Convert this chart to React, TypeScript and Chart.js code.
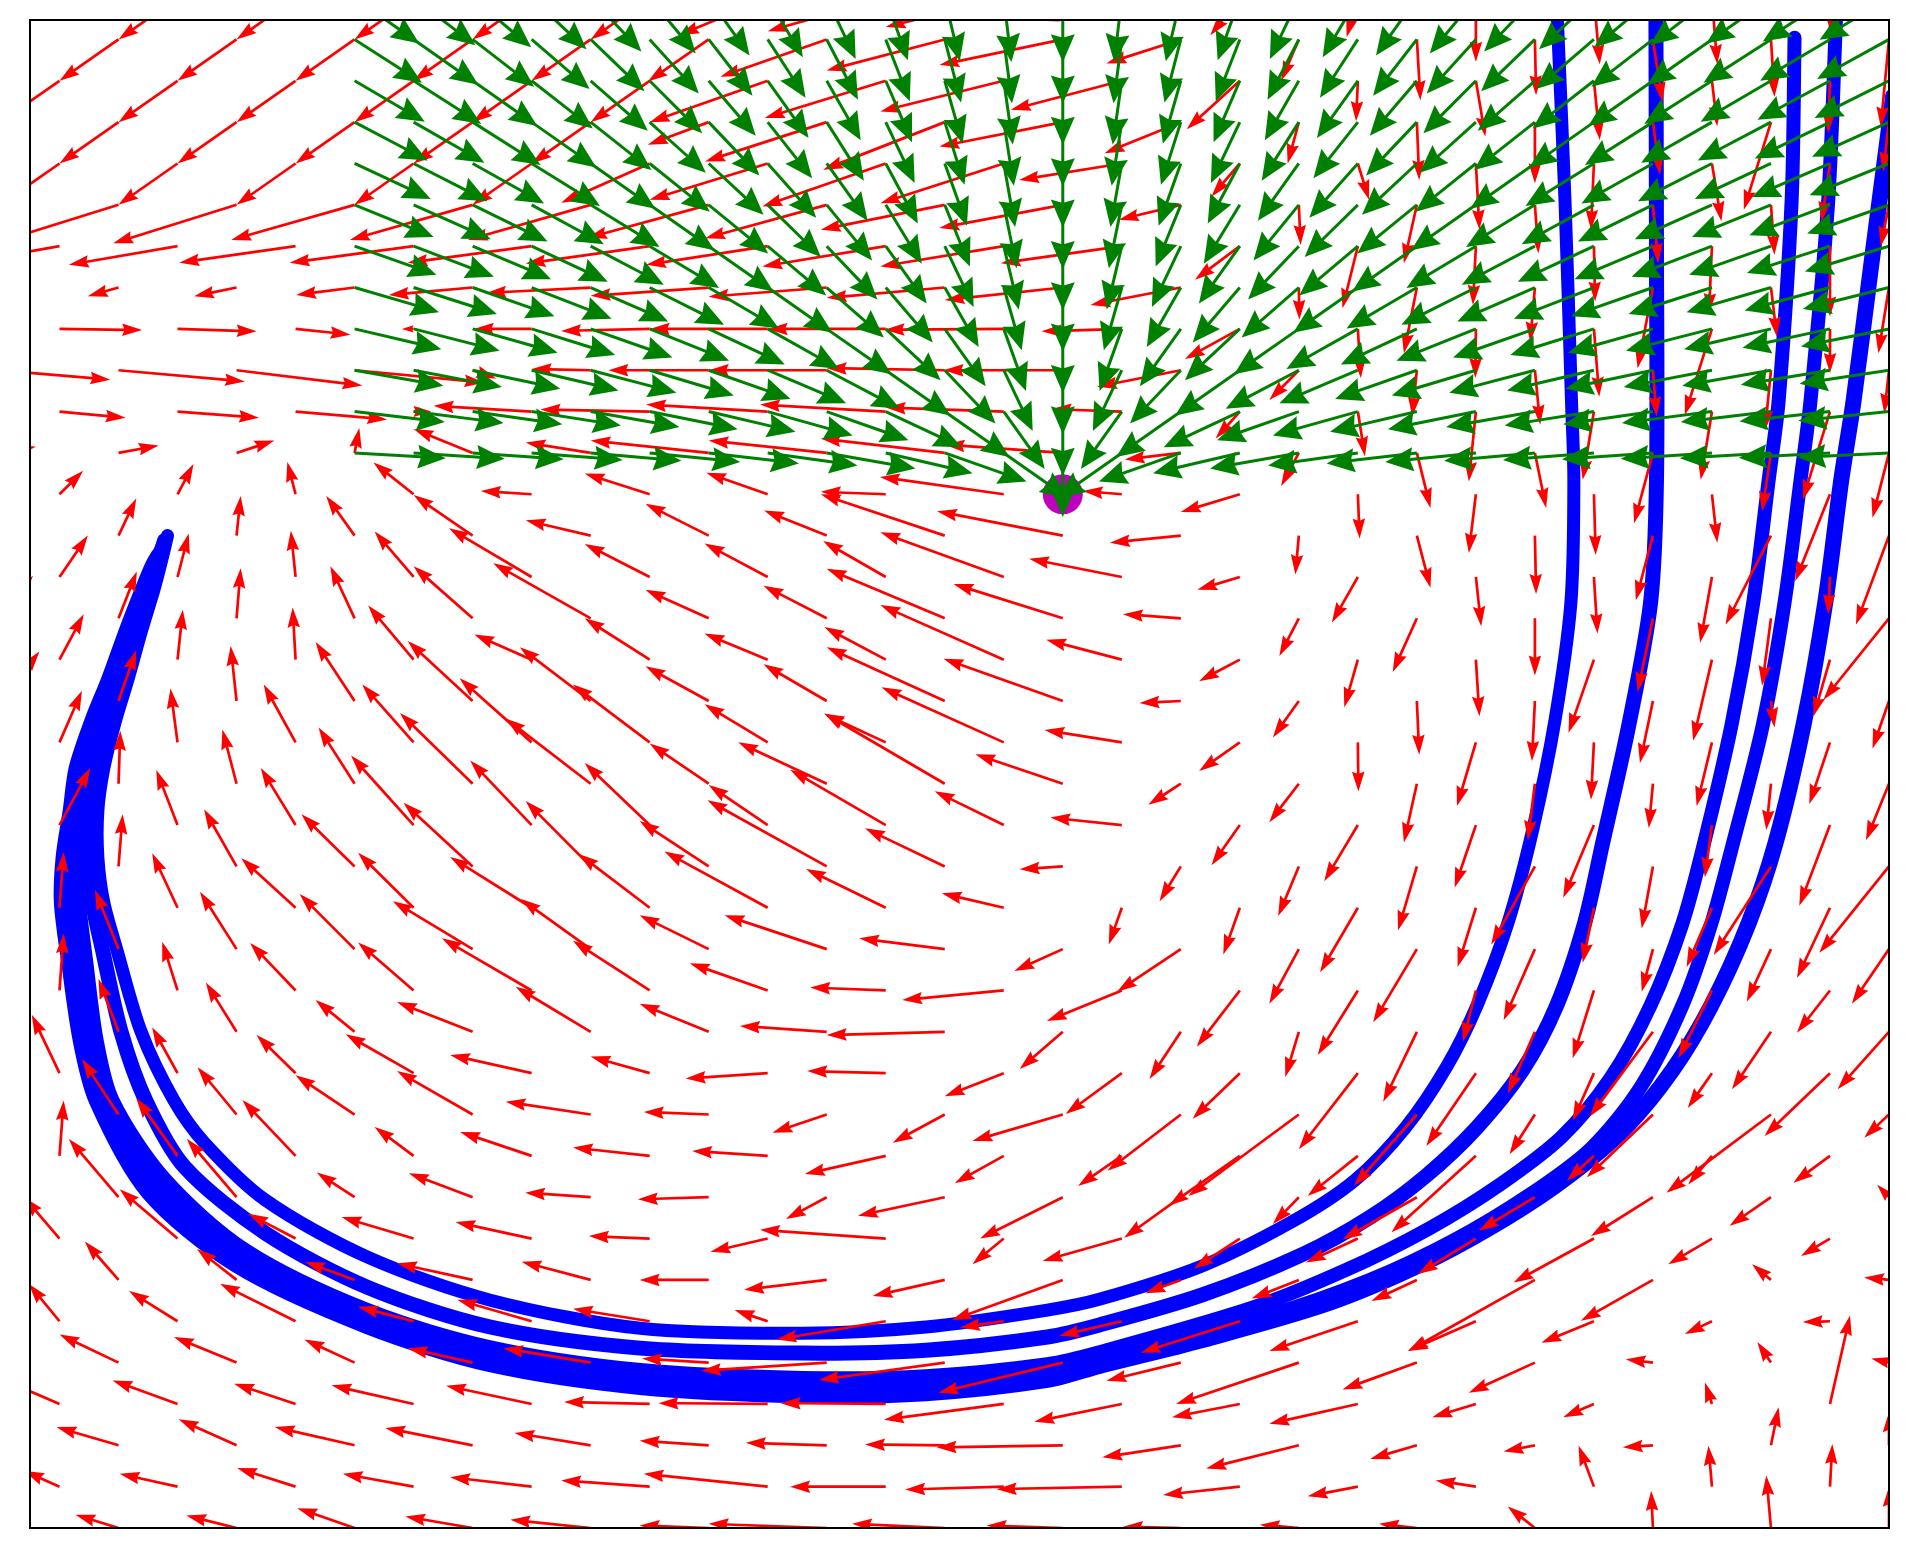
import React, { useEffect, useRef } from "react";
import { Chart, registerables } from "chart.js";

Chart.register(...registerables);

// Lattice coordinates: columns 0..32, rows 0..37 (row 0 = bottom edge)
const X_MIN = 0.5;
const X_MAX = 32;
const Y_MIN = 0;
const Y_MAX = 36.47;

// Goal (magenta marker); green arrows are unit directions toward it
const GOAL: [number, number] = [18, 25];
const GREEN_COLS: [number, number] = [6, 32];
const GREEN_ROWS: [number, number] = [26, 37];
const GREEN_LENGTH = 1.55;

// Red field: one row per lattice row k (0..37); tails on the checkerboard (i + k even).
// Each entry = [u, v] in lattice units.
const RED_VECTORS: number[][][] = [
  [[-0.6,0.3],[-0.73,0.32],[-0.85,0.3],[-0.97,0.48],[-1.14,0.28],[-1.36,0.2],[-1.17,0.06],[-2.0,0.1],[-1.57,0.1],[-1.29,0.06],[-0.98,0.03],[-0.66,0.08],[-0.64,0.1],[-0.46,0.52],[-0.03,0.9],[-0.08,1.27],[0,1.0]],
  [[-0.6,0.38],[-0.98,0.31],[-0.99,0.45],[-1.2,0.31],[-1.38,0.23],[-1.5,0.15],[-2.1,0.31],[-1.62,0],[-1.67,-0.07],[-2.12,-0.06],[-1.3,-0.2],[-0.85,-0.23],[-0.68,0.15],[-0.26,0.99],[-0.06,0.99],[0.04,1.03]],
  [[-0.9,0.5],[-1.05,0.44],[-0.98,0.63],[-1.35,0.44],[-1.48,0.42],[-1.29,0.3],[-1.17,0.11],[-1.37,0.06],[-1.35,0.02],[-2.14,-0.05],[-1.33,-0.29],[-1.57,-0.56],[-0.79,-0.33],[-0.53,-0.15],[-0.51,-0.05],[0.13,0.92],[0,0.8]],
  [[-0.9,0.55],[-1.1,0.57],[-1.04,0.49],[-1.39,0.45],[-1.45,0.44],[-1.45,0.05],[-1.85,0.02],[-1.78,0.02],[-2.03,-0.38],[-1.48,-0.43],[-1.15,-0.32],[-1.5,-0.48],[-0.74,-0.32],[-0.52,-0.32],[-0.12,0.52],[0.34,2.14]],
  [[-0.9,0.7],[-1.0,0.68],[-1.06,0.62],[-0.85,0.56],[-1.1,0.35],[-1.48,0.35],[-1.13,0.1],[-2.13,-0.2],[-2.13,-0.42],[-2.11,-0.73],[-1.26,-0.44],[-2.08,-1.0],[-1.26,-0.65],[-1.12,-0.73],[-0.46,0.08],[-0.23,0.5],[-0.3,0.1]],
  [[-0.52,0.9],[-0.82,0.73],[-1.28,0.91],[-0.94,0.35],[-1.26,0.52],[-1.3,0.3],[-0.56,0.27],[-1.85,-0.44],[-0.74,-0.15],[-1.06,-0.35],[-1.68,-0.76],[-1.5,-0.72],[-1.15,-0.72],[-0.89,-0.52],[-0.46,-0.31],[-0.46,-0.02]],
  [[-0.6,0.9],[-0.57,0.93],[-0.67,0.75],[-0.84,0.44],[-1.28,0.4],[-1.17,0.44],[-1.17,0],[-1.4,-0.24],[-1.22,-0.39],[-1.88,-0.97],[-0.6,-0.32],[-0.8,-0.45],[-0.77,-0.51],[-2.15,-1.72],[-1.22,-0.99],[-0.32,0.38],[-0.42,0.06]],
  [[-0.6,1.0],[-0.98,1.19],[-0.8,0.6],[-1.22,0.52],[-1.29,0.4],[-1.03,0.06],[-0.97,-0.32],[-2.13,0.21],[-0.53,-0.62],[-1.34,-0.54],[-0.78,-0.73],[-0.88,-0.58],[-0.98,-0.86],[-1.36,-1.06],[-0.74,-0.62],[-0.49,-0.42]],
  [[-0.4,1.3],[-0.84,1.41],[-0.84,1.41],[-0.64,0.6],[-1.08,0.58],[-1.11,0.11],[-1.2,-0.05],[-0.69,-0.53],[-1.47,-0.45],[-1.4,-1.0],[-0.96,-0.98],[-0.44,-0.65],[-1.26,-1.02],[-0.95,-0.81],[-1.05,-0.94],[-0.7,-0.69],[-0.2,0.3]],
  [[0.07,1.34],[-0.7,1.4],[-0.9,1.35],[-0.66,0.7],[-1.21,0.58],[-1.3,0.2],[-1.28,0.12],[-1.37,-0.44],[-0.83,-0.66],[-0.74,-0.73],[-1.2,-1.2],[-0.85,-0.97],[-1.43,-1.85],[-0.46,-0.6],[-0.4,-0.69],[-0.62,-0.65]],
  [[-0.3,1.3],[-0.62,1.34],[-0.66,1.14],[-1.0,0.95],[-1.28,1.05],[-1.44,0.31],[-1.1,0.06],[-0.92,-0.44],[-0.88,-0.68],[-1.53,-0.64],[-1.24,-1.36],[-1.87,-1.97],[-1.07,-1.73],[-0.43,-0.96],[-1.12,-1.52],[-1.77,-1.89],[-0.42,-0.56]],
  [[-0.47,1.41],[-0.43,1.11],[-0.66,0.92],[-1.15,0.94],[-1.38,0.44],[-1.0,0.4],[-1.39,-0.13],[-1.33,0.05],[-1.0,-0.56],[-0.95,-0.99],[-0.8,-1.1],[-1.0,-1.84],[-0.84,-1.76],[-0.36,-1.15],[-0.41,-0.84],[-1.11,-1.52]],
  [[-0.3,1.3],[-0.34,1.28],[-0.52,1.19],[-0.66,0.77],[-1.28,0.72],[-1.27,1.09],[-1.17,0.68],[-1.47,0.14],[-2.0,-0.08],[-0.73,-0.9],[-0.53,-1.14],[-0.23,-1.09],[-0.57,-1.69],[-0.46,-1.49],[-1.07,-2.05],[-0.66,-1.39],[-0.87,-1.39]],
  [[0.07,1.38],[-0.26,1.18],[-0.77,1.15],[-0.94,1.16],[-1.52,1.26],[-1.3,1.2],[-1.32,0.66],[-1.28,0.07],[-1.72,-0.23],[-1.27,-0.74],[-0.73,-1.36],[-0.68,-1.56],[-0.22,-1.24],[-0.36,-1.64],[-0.57,-1.64],[-0.56,-1.02]],
  [[-0.2,1.4],[-0.4,1.43],[-0.62,1.39],[-0.93,1.33],[-1.35,1.16],[-1.18,1.21],[-1.17,0.82],[-1.73,0.82],[-1.45,0.26],[-0.82,-0.53],[-1.08,-1.03],[-0.5,-1.32],[-0.74,-1.77],[-0.53,-1.72],[-0.19,-1.03],[-0.41,-1.27],[-0.63,-1.32]],
  [[0.07,1.35],[-0.43,1.32],[-0.92,1.2],[-0.94,1.33],[-1.38,1.23],[-1.2,1.3],[-1.75,1.36],[-1.35,0.94],[-1.05,0.35],[-0.22,-0.89],[-0.28,-1.13],[-0.64,-1.56],[-0.31,-1.43],[-0.19,-1.33],[-0.43,-1.43],[-0.56,-1.7]],
  [[0.0,1.3],[0.07,1.26],[-0.55,1.38],[-0.9,1.26],[-1.17,1.54],[-1.1,1.58],[-1.17,1.1],[-2.02,1.6],[-1.35,0.92],[-0.73,-0.07],[-0.36,-0.84],[-0.35,-1.2],[-0.32,-1.55],[-0.74,-1.89],[-0.19,-1.5],[-0.97,-2.14],[-1.18,-2.09]],
  [[0.52,1.38],[-0.36,1.33],[-0.59,1.38],[-1.06,1.68],[-1.04,1.56],[-1.1,1.5],[-1.0,0.97],[-1.62,1.34],[-1.17,0.82],[-1.21,0.18],[-0.48,-0.97],[-0.57,-1.36],[-0.36,-1.51],[-0.52,-1.76],[-0.12,-1.26],[-0.52,-1.95]],
  [[0.2,1.3],[0.03,1.28],[-0.24,1.31],[-0.61,1.36],[-1.23,1.71],[-1.44,1.58],[-1.0,0.97],[-1.5,1.0],[-2.04,1.7],[-1.48,0.71],[-0.55,-0.51],[-0.5,-0.93],[-0.22,-1.42],[-0.12,-1.37],[-0.07,-1.07],[-0.08,-1.12],[-0.39,-1.37]],
  [[0.38,1.25],[-0.12,1.3],[-0.54,1.4],[-0.87,1.4],[-1.22,1.55],[-1.3,1.4],[-1.07,0.92],[-1.04,0.69],[-2.07,1.33],[-1.31,0.3],[-0.69,-0.69],[0.01,-1.19],[-0.32,-1.54],[-0.05,-1.39],[-0.26,-1.54],[-0.35,-1.49]],
  [[0.66,1.2],[0.3,1.23],[-0.1,1.33],[-0.66,1.43],[-1.1,1.45],[-1.2,1.3],[-1.07,0.84],[-1.07,0.89],[-2.0,1.3],[-2.02,1.02],[-0.7,-0.05],[-0.44,-0.88],[0.04,-1.3],[-0.05,-1.45],[-0.22,-1.5],[0.06,-0.64],[-0.28,-1.15]],
  [[0.41,1.1],[0.09,1.21],[-0.05,1.26],[-0.77,1.31],[-0.97,0.61],[-1.1,1.0],[-1.07,0.63],[-1.04,0.79],[-2.09,1.32],[-1.28,0.48],[-0.69,-0.52],[-0.23,-1.15],[0.06,-1.37],[-0.43,-1.77],[-0.32,-1.96],[-0.28,-1.37]],
  [[0.55,1.03],[0.31,1.13],[0.07,1.21],[-0.41,1.26],[-1.0,1.26],[-1.65,1.33],[-1.07,0.69],[-1.07,0.79],[-2.0,1.2],[-1.85,0.83],[-0.98,0.1],[-0.33,-0.91],[-0.41,-1.3],[0,-1.38],[-0.26,-1.78],[-0.15,-1.63],[-1.11,-1.97]],
  [[0.48,1.0],[0.19,1.05],[-0.08,1.12],[-0.66,1.1],[-1.4,1.18],[-1.1,0.8],[-1.07,0.81],[-1.06,0.87],[-2.09,1.08],[-1.57,0.44],[-0.72,-0.31],[-0.44,-1.1],[0.09,-1.19],[0.06,-1.37],[-0.2,-1.59],[-0.03,-0.9]],
  [[0.5,0.9],[0.3,0.9],[0.07,0.96],[-0.48,0.96],[-1.0,0.98],[-1.1,0.37],[-1.07,0.77],[-1.06,0.61],[-2.1,1.0],[-2.13,0.59],[-1.2,-0.17],[-0.06,-0.94],[0.23,-1.26],[0.02,-1.41],[-0.29,-1.56],[-0.77,-2.15],[-0.56,-2.15]],
  [[0.4,0.57],[0.27,0.73],[-0.14,0.78],[-0.68,0.77],[-0.86,0.08],[-1.1,0.5],[-1.04,0.52],[-1.1,0.06],[-2.1,0.42],[-0.66,0.08],[-1.0,-0.43],[0.03,-1.07],[-0.12,-1.42],[0.03,-1.47],[0.09,-1.17],[-0.59,-2.1]],
  [[0.6,0.15],[0.68,0.18],[0.64,0.3],[0.08,0.6],[-1.0,0.58],[-1.1,0.25],[-2.0,0.3],[-2.0,0.3],[-2.1,0.35],[-2.0,0.2],[-0.95,-0.16],[-0.3,-0.8],[0.23,-1.33],[0.19,-1.33],[-0.32,-1.7],[-0.15,-1.41],[-0.28,-1.57]],
  [[1.12,-0.15],[1.38,-0.15],[1.55,-0.19],[0.3,0.0],[-1.66,0.14],[-1.85,0.05],[-2.06,0.17],[-2.13,0.17],[-2.0,0.1],[-1.19,0.06],[-0.41,-0.65],[0.12,-1.08],[-0.12,-1.69],[-0.19,-1.65],[-0.19,-1.65],[-0.46,-2.13]],
  [[1.86,-0.23],[2.14,-0.27],[2.13,-0.37],[2.2,-0.3],[0.4,-0.2],[-1.0,0.03],[-1.7,0.0],[-2.0,0.0],[-2.0,0.05],[-2.02,0.0],[-1.42,-0.4],[-0.5,-0.72],[-0.08,-1.12],[0.09,-1.32],[0.06,-1.12],[-0.1,-1.45],[-0.08,-1.04]],
  [[1.4,-0.03],[1.34,-0.06],[0.93,-0.14],[-0.2,0.0],[-0.98,0.0],[-1.5,-0.05],[-2.0,0.0],[-2.0,0.0],[-2.02,-0.02],[-1.36,-0.06],[-0.93,-0.73],[0.05,-1.19],[-0.01,-1.19],[0.09,-1.64],[-0.46,-2.08],[0.0,-1.07]],
  [[-0.4,-0.2],[-0.52,-0.21],[-0.72,-0.21],[-0.99,-0.18],[-1.42,-0.18],[-1.77,-0.13],[-2.0,-0.2],[-2.0,-0.22],[-2.0,-0.25],[-2.0,-0.3],[-1.53,-0.42],[0.01,-0.78],[-0.22,-1.59],[-0.08,-1.31],[-0.26,-1.95],[0.1,-1.19],[-0.18,-1.59]],
  [[-1.8,-0.45],[-1.84,-0.45],[-1.97,-0.4],[-2.1,-0.4],[-2.1,-0.4],[-2.1,-0.42],[-2.06,-0.45],[-2.09,-0.49],[-2.09,-0.49],[-2.05,-0.41],[-0.76,-0.81],[-0.26,-1.5],[-0.05,-1.42],[0.02,-1.34],[-0.05,-1.62],[0.0,-1.7]],
  [[-2.1,-0.9],[-2.1,-0.93],[-2.09,-0.93],[-2.09,-0.85],[-2.08,-0.85],[-2.08,-0.85],[-2.06,-0.8],[-2.06,-0.81],[-2.1,-0.6],[-2.09,-0.56],[-1.05,-0.36],[0.03,-0.97],[-0.22,-1.41],[0.06,-1.17],[0.09,-1.41],[0.06,-1.21],[-0.14,-1.0]],
  [[-1,-1],[-1,-1],[-1,-1],[-1,-1],[-1,-1],[-1.5,-0.95],[-2.0,-0.88],[-2.09,-1.04],[-2.09,-0.96],[-1.74,-0.4],[-0.48,-0.8],[0.19,-0.88],[0.06,-1.6],[-0.05,-1.6],[0.16,-1.4],[-0.14,-1.4]],
  [[-1,-1],[-1,-1],[-1,-1],[-1,-1],[-1,-1],[-1,-1],[-1.03,-0.55],[-2.06,-0.95],[-2.06,-1.15],[-2.09,-0.59],[-1.29,-0.75],[-0.19,-1.0],[0.04,-1.4],[0.0,-1.48],[0.12,-1.27],[-0.46,-2.12],[-0.1,-1.2]],
  [[-1,-1],[-1,-1],[-1,-1],[-1,-1],[-1,-1],[-1,-1],[-2.0,-1.0],[-2.05,-0.9],[-2.09,-0.74],[-1.88,-0.7],[-0.9,-1.17],[-0.03,-0.98],[0.16,-1.35],[0.1,-1.43],[0.09,-1.1],[-0.03,-1.27]],
  [[-1,-1],[-1,-1],[-1,-1],[-1,-1],[-1,-1],[-1,-1],[-1.03,-1.02],[-1.8,-0.9],[-2.0,-0.75],[-2.09,-0.62],[-1.26,-0.58],[-0.3,-1.0],[0.06,-1.47],[0.02,-1.35],[0.16,-1.51],[0.06,-1.39],[-0.14,-2.11]],
  [[-1,-1],[-1,-1],[-1,-1],[-1,-1],[-1,-1],[-1,-1],[-1.5,-0.9],[-2.0,-0.8],[-2.0,-0.7],[-1.4,-0.55],[-0.5,-0.9],[-0.19,-0.94],[0.0,-1.54],[0.1,-1.6],[0.09,-1.6],[0.05,-0.9]],
];

// Blue trajectories (lattice coordinates)
const TRAJ_1: [number, number][] = [
  [26.37,36.81],[26.51,32.10],[26.62,27.26],[26.66,25.33],[26.61,22.38],[26.34,19.53],[25.96,16.87],[25.54,14.62],[25.02,12.64],[24.51,11.17],[23.81,9.69],[22.95,8.41],[21.90,7.42],[20.35,6.33],[18.62,5.53],[17.74,5.27],[15.68,4.86],[13.59,4.71],[10.84,4.83],[8.30,5.51],[6.22,6.55],[4.49,7.93],[3.46,9.31],
  [2.94,10.34],[2.38,12.01],[1.97,13.99],[1.75,15.13],[1.65,16.22],[1.65,17.35],[1.75,18.37],[1.95,19.53],[2.16,20.52],[2.39,21.70],[2.60,22.69],[2.73,23.40],[2.83,24.0],
];
const TRAJ_2: [number, number][] = [
  [28.05,36.81],[28.06,30.89],[28.06,25.33],[27.96,22.38],[27.59,19.41],[27.15,16.58],[26.84,14.62],[26.37,12.64],[25.79,11.07],[25.02,9.69],[24.15,8.51],[23.21,7.52],[22.07,6.62],[20.35,5.63],[18.62,4.91],[17.74,4.62],[15.68,4.30],[13.59,4.23],[10.84,4.35],[8.30,4.86],[6.22,5.82],[4.49,7.13],[3.12,8.73],
  [2.46,10.34],[2.04,12.01],[1.73,13.97],[1.56,15.13],[1.50,16.22],[1.51,17.35],[1.62,18.37],[1.84,19.53],[2.06,20.52],[2.31,21.70],[2.55,22.69],[2.68,23.40],[2.78,23.88],
];
const TRAJ_3: [number, number][] = [
  [30.40,36.04],[30.35,32.10],[30.13,27.26],[29.96,25.33],[29.70,22.38],[29.33,19.41],[28.87,16.58],[28.50,14.62],[27.96,12.64],[27.28,10.88],[26.46,9.47],[25.41,8.31],[24.19,7.23],[22.80,6.24],[21.24,5.34],[18.62,4.25],[17.74,3.96],[15.68,3.67],[13.59,3.63],[10.84,3.82],[8.30,4.37],[6.22,5.27],[4.15,6.72],[2.77,8.46],
  [1.90,10.34],[1.63,11.79],[1.45,13.73],[1.33,15.13],[1.29,16.22],[1.36,17.35],[1.50,18.37],[1.73,19.53],[1.97,20.52],[2.24,21.70],[2.48,22.69],[2.65,23.40],[2.75,23.76],
];
const TRAJ_4: [number, number][] = [
  [31.11,36.81],[30.97,32.10],[30.67,27.26],[30.50,25.33],[30.23,22.38],[29.86,19.41],[29.36,16.58],[28.99,14.62],[28.50,12.64],[27.79,10.66],[26.95,9.18],[25.90,8.05],[24.63,6.96],[23.19,5.99],[21.50,5.15],[18.62,4.11],[17.74,3.77],[15.68,3.46],[13.59,3.41],[10.84,3.60],[8.30,4.16],[6.22,5.08],[4.07,6.53],[2.63,8.29],
  [1.77,10.34],[1.50,11.79],[1.29,13.73],[1.18,15.13],[1.18,16.22],[1.26,17.35],[1.40,18.37],[1.65,19.53],[1.90,20.52],[2.19,21.70],[2.46,22.69],[2.61,23.35],[2.72,23.64],
];
const TRAJ_5: [number, number][] = [
  [32.07,34.63],[31.73,30.89],[31.40,27.26],[31.19,25.33],[30.92,22.38],[30.55,19.41],[30.08,16.58],[29.62,14.62],[28.99,12.64],[28.33,11.07],[27.54,9.69],[26.57,8.51],[25.54,7.52],[24.15,6.43],[22.51,5.44],[20.35,4.54],[18.62,3.92],[17.74,3.58],[15.68,3.26],[13.59,3.21],[10.84,3.41],[8.30,3.96],[6.22,4.88],[4.00,6.36],[2.51,8.12],
  [1.63,10.34],[1.36,11.79],[1.16,13.73],[1.04,15.13],[1.07,16.22],[1.19,17.35],[1.29,18.37],[1.56,19.53],[1.84,20.52],[2.14,21.70],[2.41,22.69],[2.58,23.27],[2.68,23.52],
];
const TRAJECTORIES = [TRAJ_1, TRAJ_2, TRAJ_3, TRAJ_4, TRAJ_5];
const TRAJ_WIDTHS = [13, 15, 14, 14, 16];

const RED = "#ff0000";
const GREEN = "#008000";
const BLUE = "#0000ff";
const MAGENTA = "#bf00bf";

function drawArrow(ctx: CanvasRenderingContext2D, x0: number, y0: number, x1: number, y1: number,
  sw: number, hl: number, hw: number, hal: number) {
  const dx = x1 - x0, dy = y1 - y0;
  const len = Math.hypot(dx, dy);
  if (len < 0.5) return;
  const ux = dx / len, uy = dy / len;
  const nx = -uy, ny = ux;
  let L = len, s = 1;
  if (len < hl) { s = len / hl; L = hl; }
  const pts = [[0, sw / 2], [L - hal, sw / 2], [L - hl, hw / 2], [L, 0], [L - hl, -hw / 2], [L - hal, -sw / 2], [0, -sw / 2]];
  ctx.beginPath();
  pts.forEach(([a, b], idx) => {
    const X = x0 + (a * ux + b * nx) * s;
    const Y = y0 + (a * uy + b * ny) * s;
    if (idx === 0) ctx.moveTo(X, Y); else ctx.lineTo(X, Y);
  });
  ctx.closePath();
  ctx.fill();
}

const quiverPlugin = {
  id: "quiverArrows",
  afterDatasetDraw(chart: any, args: any) {
    const ds = chart.data.datasets[args.index];
    const q = ds.quiver;
    if (!q) return;
    const { ctx, chartArea: a, scales } = chart;
    const xs = scales.x, ys = scales.y;
    ctx.save();
    ctx.beginPath();
    ctx.rect(a.left, a.top, a.right - a.left, a.bottom - a.top);
    ctx.clip();
    ctx.fillStyle = q.color;
    for (const p of ds.data) {
      const x0 = xs.getPixelForValue(p.x), y0 = ys.getPixelForValue(p.y);
      const x1 = xs.getPixelForValue(p.x + p.u), y1 = ys.getPixelForValue(p.y + p.v);
      drawArrow(ctx, x0, y0, x1, y1, q.shaft, q.headLength, q.headWidth, q.headAxis);
    }
    ctx.restore();
  },
  afterDraw(chart: any) {
    const { ctx, chartArea: a } = chart;
    ctx.save();
    ctx.strokeStyle = "#000000";
    ctx.lineWidth = 2;
    ctx.strokeRect(a.left, a.top, a.right - a.left, a.bottom - a.top);
    ctx.restore();
  },
};

export default function App() {
  const ref = useRef<HTMLCanvasElement | null>(null);
  useEffect(() => {
    if (!ref.current) return;

    const redData: any[] = [];
    RED_VECTORS.forEach((row, k) => {
      row.forEach((vec, j) => {
        const i = (k % 2) + 2 * j;
        redData.push({ x: i, y: k, u: vec[0], v: vec[1] });
      });
    });

    const greenData: any[] = [];
    for (let k = GREEN_ROWS[0]; k <= GREEN_ROWS[1]; k++) {
      for (let i = GREEN_COLS[0]; i <= GREEN_COLS[1]; i++) {
        const dx = GOAL[0] - i, dy = GOAL[1] - k;
        const n = Math.hypot(dx, dy) || 1;
        greenData.push({ x: i, y: k, u: (dx / n) * GREEN_LENGTH, v: (dy / n) * GREEN_LENGTH });
      }
    }

    const blueSets = TRAJECTORIES.map((t, idx) => ({
      type: "scatter",
      data: t.map(([x, y]) => ({ x, y })),
      showLine: true,
      borderColor: BLUE,
      backgroundColor: BLUE,
      borderWidth: TRAJ_WIDTHS[idx],
      borderCapStyle: "round",
      borderJoinStyle: "round",
      tension: 0.3,
      pointRadius: 0,
      clip: 0,
      order: 4,
    }));

    const chart = new Chart(ref.current, {
      type: "scatter",
      data: {
        datasets: [
          ...blueSets,
          {
            data: redData,
            pointRadius: 0,
            order: 3,
            quiver: { color: RED, shaft: 2.7, headLength: 20, headWidth: 12.5, headAxis: 18 },
          } as any,
          {
            data: [{ x: GOAL[0], y: GOAL[1] }],
            pointRadius: 20,
            backgroundColor: MAGENTA,
            borderWidth: 0,
            order: 2,
            clip: 0,
          },
          {
            data: greenData,
            pointRadius: 0,
            order: 1,
            quiver: { color: GREEN, shaft: 3, headLength: 28, headWidth: 24, headAxis: 25 },
          } as any,
        ] as any,
      },
      options: {
        animation: false,
        responsive: false,
        devicePixelRatio: 1,
        layout: { padding: { left: 30, top: 19, right: 19, bottom: 31 } },
        plugins: { legend: { display: false }, tooltip: { enabled: false } },
        scales: {
          x: { type: "linear", min: X_MIN, max: X_MAX, display: false },
          y: { type: "linear", min: Y_MIN, max: Y_MAX, display: false },
        },
      } as any,
      plugins: [quiverPlugin as any],
    });
    return () => chart.destroy();
  }, []);

  return (
    <div style={{ position: "absolute", left: 0, top: 0, width: 1909, height: 1559, background: "#ffffff" }}>
      <canvas ref={ref} width={1909} height={1559} style={{ width: 1909, height: 1559, display: "block" }} />
    </div>
  );
}
